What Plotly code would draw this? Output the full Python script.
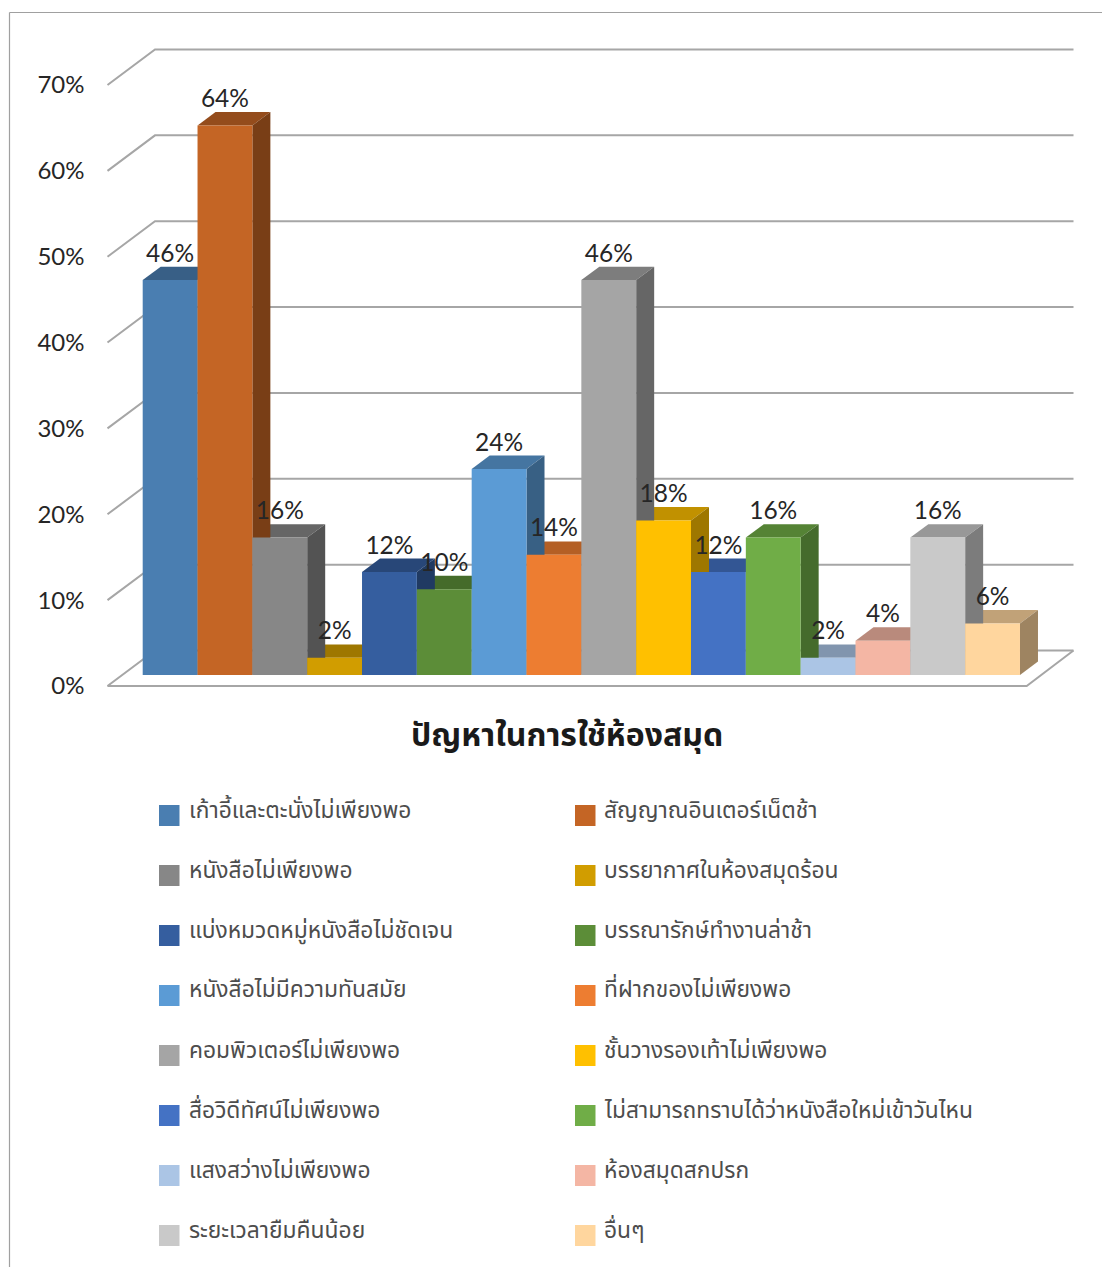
import plotly.graph_objects as go

categories = ["เก้าอี้และตะนั่งไม่เพียงพอ", "สัญญาณอินเตอร์เน็ตช้า", "หนังสือไม่เพียงพอ", "บรรยากาศในห้องสมุดร้อน",
              "แบ่งหมวดหมู่หนังสือไม่ชัดเจน", "บรรณารักษ์ทำงานล่าช้า", "หนังสือไม่มีความทันสมัย", "ที่ฝากของไม่เพียงพอ",
              "คอมพิวเตอร์ไม่เพียงพอ", "ชั้นวางรองเท้าไม่เพียงพอ", "สื่อวิดีทัศน์ไม่เพียงพอ", "ไม่สามารถทราบได้ว่าหนังสือใหม่เข้าวันไหน",
              "แสงสว่างไม่เพียงพอ", "ห้องสมุดสกปรก", "ระยะเวลายืมคืนน้อย", "อื่นๆ"]
values = [46, 64, 16, 2, 12, 10, 24, 14, 46, 18, 12, 16, 2, 4, 16, 6]
colors = ["#4A7EB1", "#C46525", "#878787", "#D19D00", "#355E9F", "#5C8D38", "#5B9BD5", "#ED7D31",
          "#A5A5A5", "#FFC000", "#4472C4", "#70AD47", "#ABC5E5", "#F4B6A4", "#C9C9C9", "#FFD69E"]
ticks = [0, 10, 20, 30, 40, 50, 60, 70]
title = "ปัญหาในการใช้ห้องสมุด"

W, H = 1102, 1267
X0, XS = 142.7, 54.83
YS = 8.586
Y_WALL, Y_BAR = 686.0, 675.0
FONT_NUM = "Lato, Carlito, sans-serif"
FONT_TH = "Noto Sans Thai, Noto Sans, Tahoma, sans-serif"
GRID = "#A6A6A6"


def shade(c, f):
    return "#%02X%02X%02X" % tuple(int(int(c[i:i + 2], 16) * f) for i in (1, 3, 5))


xr = [(0 - X0) / XS, (W - X0) / XS]
y1r = [(Y_WALL - H) / YS, Y_WALL / YS]
y2r = [(Y_BAR - H) / YS, Y_BAR / YS]
lift = (Y_WALL - Y_BAR) / YS
bar_dx, bar_dy = 18 / XS, 13.4 / YS
wall_dx, wall_dy = 47.5 / XS, 35.5 / YS
wall_l = (107.5 - X0) / XS
wall_r = (1073.5 - X0) / XS
floor_r = (1026.7 - X0) / XS

fig = go.Figure()
# walls and floor
for t in ticks:
    fig.add_trace(go.Scatter(x=[wall_l, wall_l + wall_dx, wall_r], y=[t, t + wall_dy, t + wall_dy], mode="lines",
                             line=dict(color=GRID, width=2), hoverinfo="skip", showlegend=False))
fig.add_trace(go.Scatter(x=[wall_l, floor_r, wall_r], y=[0, 0, wall_dy], mode="lines",
                         line=dict(color=GRID, width=2), hoverinfo="skip", showlegend=False))
# bar tops and sides, right to left
for i in range(len(values) - 1, -1, -1):
    v = values[i] + lift
    fig.add_trace(go.Scatter(x=[i, i + 1, i + 1 + bar_dx, i + bar_dx, i], y=[v, v, v + bar_dy, v + bar_dy, v],
                             mode="lines", fill="toself", fillcolor=shade(colors[i], 0.76), line=dict(width=0),
                             hoverinfo="skip", showlegend=False))
    fig.add_trace(go.Scatter(x=[i + 1, i + 1 + bar_dx, i + 1 + bar_dx, i + 1, i + 1],
                             y=[lift, lift + bar_dy, v + bar_dy, v, lift],
                             mode="lines", fill="toself", fillcolor=shade(colors[i], 0.62), line=dict(width=0),
                             hoverinfo="skip", showlegend=False))
# bar fronts
fig.add_trace(go.Bar(x=[i + 0.5 for i in range(len(values))], y=values, width=1, marker=dict(color=colors, line=dict(width=0)),
                     xaxis="x2", yaxis="y2", customdata=categories, hovertemplate="%{customdata}: %{y}%<extra></extra>",
                     showlegend=False))
fig.add_trace(go.Scatter(x=[i + 0.5 for i in range(len(values))], y=[v + 24.5 / YS for v in values], mode="text",
                         text=[f"{v}%" for v in values], textposition="middle center",
                         textfont=dict(family=FONT_NUM, size=24.5, color="#262626"), xaxis="x2", yaxis="y2",
                         hoverinfo="skip", showlegend=False))

shapes = [
    dict(type="line", xref="paper", yref="paper", x0=9.5 / W, x1=9.5 / W, y0=0, y1=1 - 12.5 / H, line=dict(color="#A0A0A0", width=1.2)),
    dict(type="line", xref="paper", yref="paper", x0=9.5 / W, x1=1, y0=1 - 12.5 / H, y1=1 - 12.5 / H, line=dict(color="#A0A0A0", width=1.2)),
]
annotations = [dict(text=f"<b>{title}</b>", xref="paper", yref="paper", x=567 / W, y=1 - 736.5 / H, xanchor="center", yanchor="middle",
                    showarrow=False, font=dict(family=FONT_TH, size=32, color="#1A1A1A"))]
for i, (name, c) in enumerate(zip(categories, colors)):
    col, row = i % 2, i // 2
    sx = (159, 575)[col]
    tx = (187, 602)[col]
    cy = 815.5 + 60 * row
    shapes.append(dict(type="rect", xref="paper", yref="paper", x0=sx / W, x1=(sx + 20.5) / W,
                       y0=1 - (cy + 10.5) / H, y1=1 - (cy - 10.5) / H, fillcolor=c, line=dict(width=0)))
    annotations.append(dict(text=name, xref="paper", yref="paper", x=tx / W, y=1 - (cy - 5) / H, xanchor="left", yanchor="middle",
                            showarrow=False, font=dict(family=FONT_TH, size=22.8, color="#4D4D4D")))

fig.update_layout(
    width=W, height=H, margin=dict(l=0, r=0, t=0, b=0), paper_bgcolor="white", plot_bgcolor="white",
    barmode="overlay", shapes=shapes, annotations=annotations, showlegend=False,
    xaxis=dict(range=xr, visible=False, fixedrange=True),
    yaxis=dict(range=y1r, anchor="free", position=107.5 / W, tickmode="array", tickvals=ticks,
               ticktext=[f"{t}%" for t in ticks], showgrid=False, zeroline=False, showline=False, ticks="",
               ticklabelstandoff=23, tickfont=dict(family=FONT_NUM, size=24, color="#262626"), fixedrange=True),
    xaxis2=dict(range=xr, visible=False, overlaying="x", fixedrange=True),
    yaxis2=dict(range=y2r, visible=False, overlaying="y", fixedrange=True),
)
fig.write_html("out.html", config={"displayModeBar": False},
               post_script="document.body.style.margin='0';document.documentElement.style.overflow='hidden';")
